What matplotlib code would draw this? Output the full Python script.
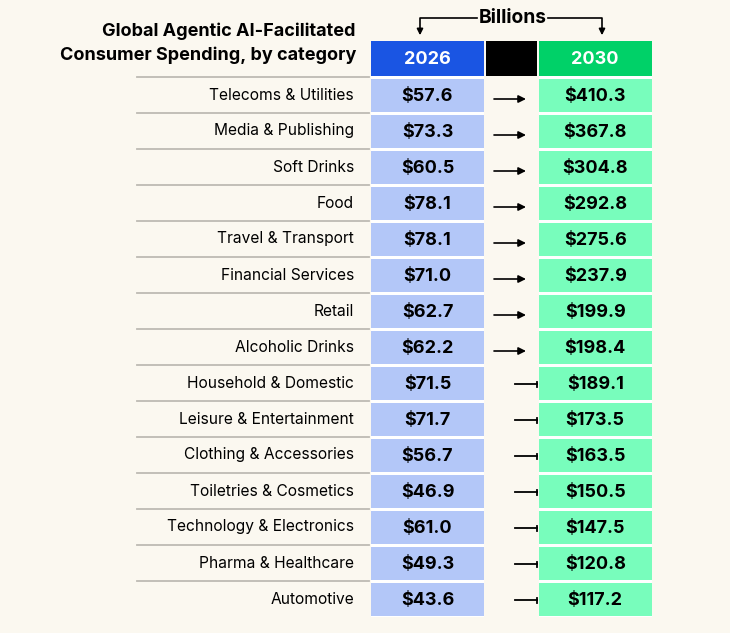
import matplotlib
matplotlib.use("Agg")
import matplotlib.pyplot as plt
from matplotlib.patches import Rectangle, FancyArrowPatch

categories = ["Telecoms & Utilities", "Media & Publishing", "Soft Drinks", "Food",
              "Travel & Transport", "Financial Services", "Retail", "Alcoholic Drinks",
              "Household & Domestic", "Leisure & Entertainment", "Clothing & Accessories",
              "Toiletries & Cosmetics", "Technology & Electronics", "Pharma & Healthcare",
              "Automotive"]
values_2026 = [57.6, 73.3, 60.5, 78.1, 78.1, 71.0, 62.7, 62.2, 71.5, 71.7, 56.7, 46.9, 61.0, 49.3, 43.6]
values_2030 = [410.3, 367.8, 304.8, 292.8, 275.6, 237.9, 199.9, 198.4, 189.1, 173.5, 163.5, 150.5, 147.5, 120.8, 117.2]
years = ["2026", "2030"]
title_lines = ["Global Agentic AI-Facilitated", "Consumer Spending, by category"]
unit_label = "Billions"

BG = "#FBF8F0"
BLUE_H = "#1A55E3"
GREEN_H = "#00D168"
BLUE_C = "#B3C7F8"
GREEN_C = "#78FDBC"

plt.rcParams['font.family'] = ['Inter', 'DejaVu Sans']

W, H = 730, 633
fig = plt.figure(figsize=(W / 100, H / 100), dpi=100, facecolor=BG)
ax = fig.add_axes([0, 0, 1, 1])
ax.set_xlim(0, W)
ax.set_ylim(H, 0)
ax.axis("off")
ax.set_facecolor(BG)

n = len(categories)
row_top0 = 77
row_h = 36
c1x0, c1x1 = 371, 484
bkx0, bkx1 = 486, 537
c2x0, c2x1 = 538.5, 652
hy0, hy1 = 41, 76

# white gaps behind value columns
ax.add_patch(Rectangle((c1x0, hy1), c1x1 - c1x0, row_h * n + 1, color="white", lw=0))
ax.add_patch(Rectangle((c2x0, hy1), c2x1 - c2x0, row_h * n + 1, color="white", lw=0))

# header
ax.add_patch(Rectangle((c1x0, hy0), c1x1 - c1x0, hy1 - hy0, color=BLUE_H, lw=0))
ax.add_patch(Rectangle((bkx0, hy0), bkx1 - bkx0, hy1 - hy0, color="black", lw=0))
ax.add_patch(Rectangle((c2x0, hy0), c2x1 - c2x0, hy1 - hy0, color=GREEN_H, lw=0))
ax.text((c1x0 + c1x1) / 2, (hy0 + hy1) / 2 + 1.5, years[0], color="white", fontsize=13,
        fontweight="bold", ha="center", va="center")
ax.text((c2x0 + c2x1) / 2, (hy0 + hy1) / 2 + 1.5, years[1], color="white", fontsize=13,
        fontweight="bold", ha="center", va="center")

# title
ax.text(356, 31, title_lines[0], fontsize=13, fontweight="bold", ha="right", va="center", color="#000000")
ax.text(356, 55, title_lines[1], fontsize=13, fontweight="bold", ha="right", va="center", color="#000000")

# Billions bracket
bx = 513
ax.text(bx, 18, unit_label, fontsize=13.8, fontweight="bold", ha="center", va="center", color="#000000")
ax.plot([477, 420, 420], [18, 18, 30], color="black", lw=1.2)
ax.plot([548, 602, 602], [18, 18, 30], color="black", lw=1.2)
for xx in (420, 602):
    ax.add_patch(FancyArrowPatch((xx, 28), (xx, 38), arrowstyle="-|>", mutation_scale=9,
                                 color="black", lw=1.2))

for i, cat in enumerate(categories):
    top = row_top0 + i * row_h
    cy = top + row_h / 2
    ax.plot([137, 369], [top, top], color="#BDBAB4", lw=1.3)
    ax.text(354, cy, cat, fontsize=11.2, ha="right", va="center", color="#000000")
    ax.add_patch(Rectangle((c1x0, top + 1.5), c1x1 - c1x0, row_h - 2.5, color=BLUE_C, lw=0))
    ax.add_patch(Rectangle((c2x0, top + 1.5), c2x1 - c2x0, row_h - 2.5, color=GREEN_C, lw=0))
    ax.text((c1x0 + c1x1) / 2, cy + 1.5, f"${values_2026[i]:.1f}", fontsize=13, fontweight="bold",
            ha="center", va="center", color="#000000")
    ax.text((c2x0 + c2x1) / 2, cy + 1.5, f"${values_2030[i]:.1f}", fontsize=13, fontweight="bold",
            ha="center", va="center", color="#000000")
    if i < 8:
        ay = cy + 4
        ax.add_patch(FancyArrowPatch((494, ay), (526, ay), arrowstyle="-|>", mutation_scale=11,
                                     color="black", lw=1.2, shrinkA=0, shrinkB=0))
    else:
        ay = cy + 1
        ax.plot([515, 537], [ay, ay], color="black", lw=1.3)
        ax.plot([537, 537], [ay - 2.5, ay + 2.5], color="black", lw=1.3)

fig.savefig("out.png", dpi=100, facecolor=BG)
